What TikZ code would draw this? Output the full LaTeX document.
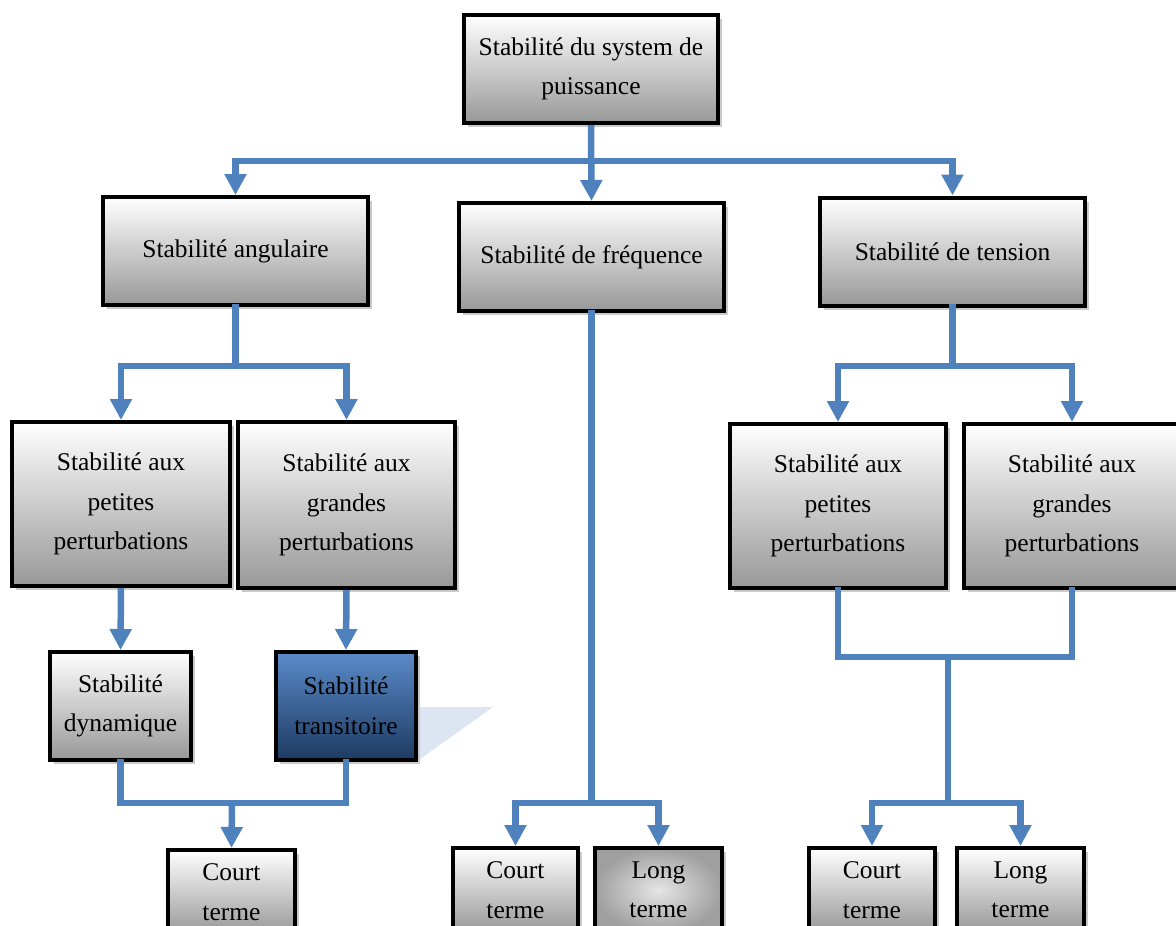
\documentclass[tikz,border=0pt]{standalone}
\usepackage{fontspec}
\setmainfont{Liberation Serif}
\usetikzlibrary{arrows.meta,shadows}
\definecolor{conn}{HTML}{4F81BD}
\definecolor{boxbot}{HTML}{989898}
\definecolor{trtop}{HTML}{5A8BC9}
\definecolor{trbot}{HTML}{1E3A62}
\definecolor{tri}{HTML}{DCE5F1}
\tikzset{
  box/.style={draw=black, line width=4pt, top color=white, bottom color=boxbot,
    align=center, font=\fontsize{25.5}{39.5}\selectfont, inner sep=0pt,
    drop shadow={shadow xshift=4pt, shadow yshift=-4pt, fill=black!35, opacity=0.6}},
  darkbox/.style={box, top color=trtop, bottom color=trbot},
  radbox/.style={box, inner color=gray!20, outer color=gray!75},
  line/.style={draw=conn, line width=6.5pt, line join=miter, line cap=rect},
  arr/.style={line, line cap=butt, -{Triangle[width=21pt,length=21pt]}},
}
\begin{document}
\begin{tikzpicture}[x=1pt,y=-1pt]
\useasboundingbox (0,0) rectangle (1176,926);
\clip (0,0) rectangle (1176,926);
% shadow triangle
\fill[tri] (420,707) -- (493,707) -- (420,759) -- cycle;
% nodes
\node[box, minimum width=254pt, minimum height=108pt] (top) at (591,69) {Stabilité du system de\\puissance};
\node[box, minimum width=265pt, minimum height=108pt] (ang) at (235.5,251) {Stabilité angulaire};
\node[box, minimum width=265pt, minimum height=108pt] (freq) at (591.5,257) {Stabilité de fréquence};
\node[box, minimum width=265pt, minimum height=108pt] (ten) at (952.5,251.5) {Stabilité de tension};
\node[box, minimum width=218pt, minimum height=164pt] (pp1) at (121,504) {Stabilité aux\\petites\\perturbations};
\node[box, minimum width=217pt, minimum height=166pt] (gp1) at (346.5,505) {Stabilité aux\\grandes\\perturbations};
\node[box, minimum width=216pt, minimum height=164pt] (pp2) at (838,506) {Stabilité aux\\petites\\perturbations};
\node[box, minimum width=216pt, minimum height=164pt] (gp2) at (1072,506) {Stabilité aux\\grandes\\perturbations};
\node[box, minimum width=141pt, minimum height=108pt] (dyn) at (120.5,706) {Stabilité\\dynamique};
\node[darkbox, minimum width=140pt, minimum height=108pt] (tra) at (346,706) {Stabilité\\transitoire};
\node[box, minimum width=127pt, minimum height=84pt] (ct1) at (231.5,892) {Court\\terme};
\node[box, minimum width=125pt, minimum height=84pt] (ct2) at (515.5,890) {Court\\terme};
\node[radbox, minimum width=127pt, minimum height=84pt] (lt2) at (658.5,890) {Long\\terme};
\node[box, minimum width=126pt, minimum height=84pt] (ct3) at (872,890) {Court\\terme};
\node[box, minimum width=127pt, minimum height=84pt] (lt3) at (1020.5,890) {Long\\terme};
% junction coordinates
\coordinate (j1) at (591,161);
\coordinate (j2) at (235.5,366);
\coordinate (j3) at (952.5,366);
\coordinate (j4) at (232,803);
\coordinate (j5) at (591.5,803);
\coordinate (j6) at (948,657);
\coordinate (j7) at (948,803);
% connectors
\draw[arr] (top.south) -- (freq.north);
\draw[arr] (j1) -| (ang.north);
\draw[arr] (j1) -| (ten.north);
\draw[line] (ang.south) -- (j2);
\draw[arr] (j2) -| (pp1.north);
\draw[arr] (j2) -| (gp1.north);
\draw[line] (ten.south) -- (j3);
\draw[arr] (j3) -| (pp2.north);
\draw[arr] (j3) -| (gp2.north);
\draw[arr] (pp1.south) -- (dyn.north);
\draw[arr] (gp1.south) -- (tra.north);
\draw[line] (dyn.south) |- (j4);
\draw[line] (tra.south) |- (j4);
\draw[arr] (j4) -- (ct1.north);
\draw[line] (freq.south) -- (j5);
\draw[arr] (j5) -| (ct2.north);
\draw[arr] (j5) -| (lt2.north);
\draw[line] (pp2.south) |- (j6);
\draw[line] (gp2.south) |- (j6);
\draw[line] (j6) -- (j7);
\draw[arr] (j7) -| (ct3.north);
\draw[arr] (j7) -| (lt3.north);
\end{tikzpicture}
\end{document}
